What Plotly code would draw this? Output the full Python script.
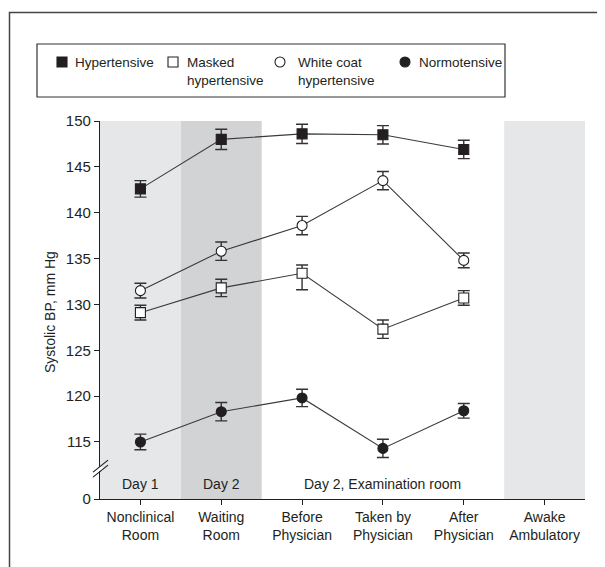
import plotly.graph_objects as go

# ---- data ----
categories = ["Nonclinical<br>Room", "Waiting<br>Room", "Before<br>Physician",
              "Taken by<br>Physician", "After<br>Physician", "Awake<br>Ambulatory"]
x_idx = [0, 1, 2, 3, 4]

series_names = ["Hypertensive", "Masked<br>hypertensive",
                "White coat<br>hypertensive", "Normotensive"]

hyper = [142.6, 148.0, 148.6, 148.5, 146.9]
hyper_err = [0.9, 1.1, 1.05, 1.0, 1.0]

masked = [129.1, 131.8, 133.4, 127.3, 130.7]
masked_err_plus = [0.8, 0.95, 0.9, 1.0, 0.8]
masked_err_minus = [0.8, 0.95, 1.8, 1.0, 0.8]

white = [131.5, 135.8, 138.6, 143.5, 134.8]
white_err = [0.8, 1.0, 1.0, 1.0, 0.8]

normo = [115.0, 118.3, 119.8, 114.3, 118.4]
normo_err = [0.85, 1.0, 0.95, 1.0, 0.8]

ytick_vals = [115, 120, 125, 130, 135, 140, 145, 150]
ytick_text = ["115", "120", "125", "130", "135", "140", "145", "150"]
AXIS_ZERO = 108.78  # where the broken axis places "0"

FONT = "Liberation Sans, Arial, sans-serif"
INK = "#231f20"
LINE = "#3a3a3a"

# page offset (browser body margin) and geometry, in screen pixels
OFF = 8
W, H = 605 - OFF, 567 - OFF
PL, PR, PT, PB = 100, 585, 121, 499   # plot area edges on screen
L, R, T, B = PL - OFF, W - (PR - OFF), PT - OFF, H - (PB - OFF)
PW, PH = PR - PL, PB - PT
def px(x):
    return (x - PL) / PW
def py(y):
    return (PB - y) / PH
def yval(y):
    return AXIS_ZERO + (PB - y) / PH * (150 - AXIS_ZERO)

fig = go.Figure()

styles = [("square", INK), ("square", "white"), ("circle", "white"), ("circle", INK)]
data = [(hyper, hyper_err, hyper_err), (masked, masked_err_plus, masked_err_minus),
        (white, white_err, white_err), (normo, normo_err, normo_err)]

for name, (sym, fill), (ys, ep, em) in zip(series_names, styles, data):
    fig.add_trace(go.Scatter(
        x=x_idx, y=ys, mode="lines+markers", name=name.replace("<br>", " "),
        showlegend=False,
        line=dict(color=LINE, width=1.1),
        marker=dict(symbol=sym, size=10, color=fill, line=dict(color=INK, width=1.1)),
        error_y=dict(type="data", array=ep, arrayminus=em, symmetric=False,
                     color="#333333", thickness=1.4, width=6),
    ))

shapes = []
# shaded bands
for i0, i1, col in [(-0.5, 0.5, "#e6e7e9"), (0.5, 1.5, "#d2d3d5"), (4.5, 5.5, "#e6e7e9")]:
    shapes.append(dict(type="rect", xref="x", yref="paper", x0=i0, x1=i1, y0=0, y1=1,
                       fillcolor=col, line=dict(width=0), layer="below"))
# outer frame (top and left visible)
shapes.append(dict(type="rect", xref="paper", yref="paper", x0=px(9.5), x1=px(640),
                   y0=py(600), y1=py(12.5), line=dict(color="#444444", width=1.5),
                   fillcolor="rgba(0,0,0,0)"))
# legend box
shapes.append(dict(type="rect", xref="paper", yref="paper", x0=px(37), x1=px(505),
                   y0=py(97), y1=py(44), line=dict(color="#333333", width=1.2),
                   fillcolor="rgba(0,0,0,0)"))
# axis break
shapes.append(dict(type="rect", xref="paper", yref="y", x0=px(97), x1=px(103),
                   y0=yval(471), y1=yval(467), fillcolor="white", line=dict(width=0),
                   layer="above"))
for off in (0, 5):
    shapes.append(dict(type="line", xref="paper", yref="y", x0=px(93), x1=px(108),
                       y0=yval(472.1 + off), y1=yval(460.1 + off),
                       line=dict(color=INK, width=1.2), layer="above"))

annotations = []
# legend entries (symbol + label)
legend_sym_x = [62, 173, 280, 405]
legend_txt_x = [73, 185, 296, 417]
LEG_Y = 62
for (sym, fill), sx, tx, name in zip(styles, legend_sym_x, legend_txt_x, series_names):
    shapes.append(dict(type="rect" if sym == "square" else "circle",
                       xref="paper", yref="paper",
                       x0=px(sx - 5), x1=px(sx + 5), y0=py(LEG_Y + 5), y1=py(LEG_Y - 5),
                       fillcolor=fill, line=dict(color=INK, width=1.1)))
    annotations.append(dict(x=px(tx), y=py(LEG_Y - 9), xref="paper", yref="paper",
                            xanchor="left", yanchor="top", align="left", text=name,
                            showarrow=False,
                            font=dict(family=FONT, size=13.5, color=INK)))

for xi, txt in [(0, "Day 1"), (1, "Day 2"), (3, "Day 2, Examination room")]:
    annotations.append(dict(x=xi, y=yval(484), xref="x", yref="y", text=txt,
                            showarrow=False, font=dict(family=FONT, size=14, color=INK)))
annotations.append(dict(x=px(50), y=py(312), xref="paper", yref="paper",
                        xanchor="center", yanchor="middle",
                        text="Systolic BP, mm Hg", textangle=-90, showarrow=False,
                        font=dict(family=FONT, size=14, color=INK)))

fig.update_layout(
    width=W, height=H,
    margin=dict(l=L, r=R, t=T, b=B),
    paper_bgcolor="white", plot_bgcolor="white",
    font=dict(family=FONT, size=14, color=INK),
    shapes=shapes, annotations=annotations,
    showlegend=False,
    xaxis=dict(range=[-0.5, 5.5], tickvals=list(range(6)), ticktext=categories,
               tickfont=dict(size=14),
               showline=True, linecolor=INK, linewidth=1.3, ticks="outside",
               ticklen=5, tickcolor=INK, showgrid=False, zeroline=False, fixedrange=True),
    yaxis=dict(range=[AXIS_ZERO, 150], tickvals=[AXIS_ZERO] + ytick_vals,
               ticktext=["0"] + ytick_text, tickfont=dict(size=15),
               showline=True, linecolor=INK, linewidth=1.3, ticks="outside",
               ticklen=5, tickcolor=INK, showgrid=False, zeroline=False, fixedrange=True),
)

fig.write_html("out.html")
